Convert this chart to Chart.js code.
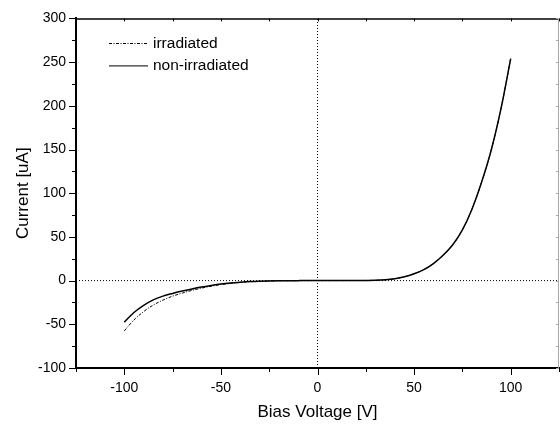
<!DOCTYPE html>
<html><head><meta charset="utf-8">
<script src="https://cdn.jsdelivr.net/npm/chart.js@4/dist/chart.umd.min.js"></script>
<style>html,body{margin:0;padding:0;background:#fff}#wrap{width:560px;height:426px}</style>
</head><body><div id="wrap"><canvas id="c" width="560" height="426"></canvas></div>
<script>
// ---- data ----
const voltage = [-100,-95,-90,-85,-80,-75,-70,-65,-60,-55,-50,-45,-40,-35,-30,-25,-20,-15,-10,-5,0,5,10,15,20,25,30,35,40,45,50,55,60,65,70,75,80,85,90,95,100];
const irradiated = [-57.5,-45,-35.5,-28,-22.3,-17.8,-14.3,-11.2,-8.6,-6.4,-4.6,-3.2,-2.1,-1.3,-0.8,-0.45,-0.22,-0.1,-0.04,0,0,0,0.02,0.05,0.1,0.18,0.35,0.9,2.1,4.3,7.8,12.5,19.5,29,41,58,82,113,150,197,254];
const nonIrradiated = [-47.5,-36.5,-28.3,-22,-17.8,-14.7,-12,-9.5,-7.3,-5.5,-3.9,-2.7,-1.8,-1.1,-0.65,-0.35,-0.17,-0.08,-0.03,0,0,0,0.02,0.05,0.1,0.18,0.35,0.9,2.1,4.3,7.8,12.5,19.5,29,41,58,82,113,150,197,254];
const seriesNames = ['irradiated','non-irradiated'];
const xRange = [-125,125];
const yRange = [-100,300];
const xTicks = [-100,-50,0,50,100];
const xMinorTicks = [-125,-75,-25,25,75,125];
const yTicks = [-100,-50,0,50,100,150,200,250,300];
const yMinorTicks = [-75,-25,25,75,125,175,225,275];
const xTitle = 'Bias Voltage [V]';
const yTitle = 'Current [uA]';

const FONT = '"Liberation Sans", Arial, sans-serif';
const toXY = (ys) => voltage.map((v,i)=>({x:v,y:ys[i]}));

const framePlugin = {
  id:'frame',
  afterDraw(chart){
    const {ctx, chartArea:a, scales:{x,y}} = chart;
    ctx.save();
    const line=(x1,y1,x2,y2)=>{ctx.beginPath();ctx.moveTo(x1,y1);ctx.lineTo(x2,y2);ctx.stroke();};
    ctx.strokeStyle='#000'; ctx.lineWidth=1;
    // left ticks
    yTicks.forEach(v=>{const p=Math.round(y.getPixelForValue(v))+0.5; line(a.left-7,p,a.left,p);});
    yMinorTicks.forEach(v=>{const p=Math.round(y.getPixelForValue(v))+0.5; line(a.left-4,p,a.left,p);});
    // bottom ticks
    xTicks.forEach(v=>{const p=Math.round(x.getPixelForValue(v))+0.5; line(p,a.bottom,p,a.bottom+7);});
    xMinorTicks.forEach(v=>{const p=Math.round(x.getPixelForValue(v))+0.5; line(p,a.bottom,p,a.bottom+4);});
    // top axis
    ctx.lineWidth=1.5;
    line(a.left,a.top+0.5,a.right,a.top+0.5);
    ctx.lineWidth=1;
    xTicks.concat(xMinorTicks).forEach(v=>{const p=Math.round(x.getPixelForValue(v))+0.5; line(p,a.top,p,a.top+3);});
    // right axis (light)
    ctx.strokeStyle='#aaa';
    line(a.right-0.5,a.top,a.right-0.5,a.bottom);
    yTicks.concat(yMinorTicks).forEach(v=>{const p=Math.round(y.getPixelForValue(v))+0.5; line(a.right-3,p,a.right,p);});
    // legend
    const items=[{name:seriesNames[0],dash:[3,1.5,1,1.5],w:1},{name:seriesNames[1],dash:[],w:1.2}];
    ctx.font='15.5px '+FONT; ctx.fillStyle='#000'; ctx.textBaseline='middle'; ctx.textAlign='left';
    items.forEach((it,i)=>{
      const yy=43.5+i*22.3;
      ctx.strokeStyle= i===0 ? '#000' : '#333';
      ctx.lineWidth=it.w; ctx.setLineDash(it.dash);
      line(109,yy,148,yy);
      ctx.setLineDash([]);
      ctx.fillText(it.name,153,yy);
    });
    ctx.restore();
  }
};

new Chart(document.getElementById('c'),{
  type:'line',
  data:{datasets:[
    {label:'zeroV',data:[{x:0,y:yRange[0]},{x:0,y:yRange[1]}],borderColor:'#000',borderWidth:1,borderDash:[1,2],pointRadius:0},
    {label:'zeroI',data:[{x:xRange[0],y:0},{x:xRange[1],y:0}],borderColor:'#000',borderWidth:1,borderDash:[1,2],pointRadius:0},
    {label:seriesNames[0],data:toXY(irradiated),borderColor:'#000',borderWidth:1,borderDash:[3,1.5,1,1.5],pointRadius:0,cubicInterpolationMode:'monotone'},
    {label:seriesNames[1],data:toXY(nonIrradiated),borderColor:'#000',borderWidth:1.5,pointRadius:0,cubicInterpolationMode:'monotone'}
  ]},
  options:{
    responsive:false, animation:false, devicePixelRatio:1,
    layout:{padding:{top:11,right:1,left:0,bottom:0}},
    plugins:{legend:{display:false},tooltip:{enabled:false}},
    scales:{
      x:{type:'linear',min:xRange[0],max:xRange[1],
        afterBuildTicks:s=>{s.ticks=xTicks.map(v=>({value:v}));},
        afterFit:s=>{s.height=58;},
        grid:{display:false,drawTicks:false},
        border:{display:true,color:'#000',width:2},
        ticks:{color:'#000',font:{family:FONT,size:14},padding:12,maxRotation:0,autoSkip:false},
        title:{display:true,text:xTitle,color:'#000',font:{family:FONT,size:17},padding:{top:0,bottom:3}}},
      y:{type:'linear',min:yRange[0],max:yRange[1],
        afterBuildTicks:s=>{s.ticks=yTicks.map(v=>({value:v}));},
        afterFit:s=>{s.width=76;},
        grid:{display:false,drawTicks:false},
        border:{display:true,color:'#000',width:2},
        ticks:{color:'#000',font:{family:FONT,size:14},padding:10,autoSkip:false},
        title:{display:true,text:yTitle,color:'#000',font:{family:FONT,size:17},padding:{top:13,bottom:0}}}
    }
  },
  plugins:[framePlugin]
});
</script></body></html>
